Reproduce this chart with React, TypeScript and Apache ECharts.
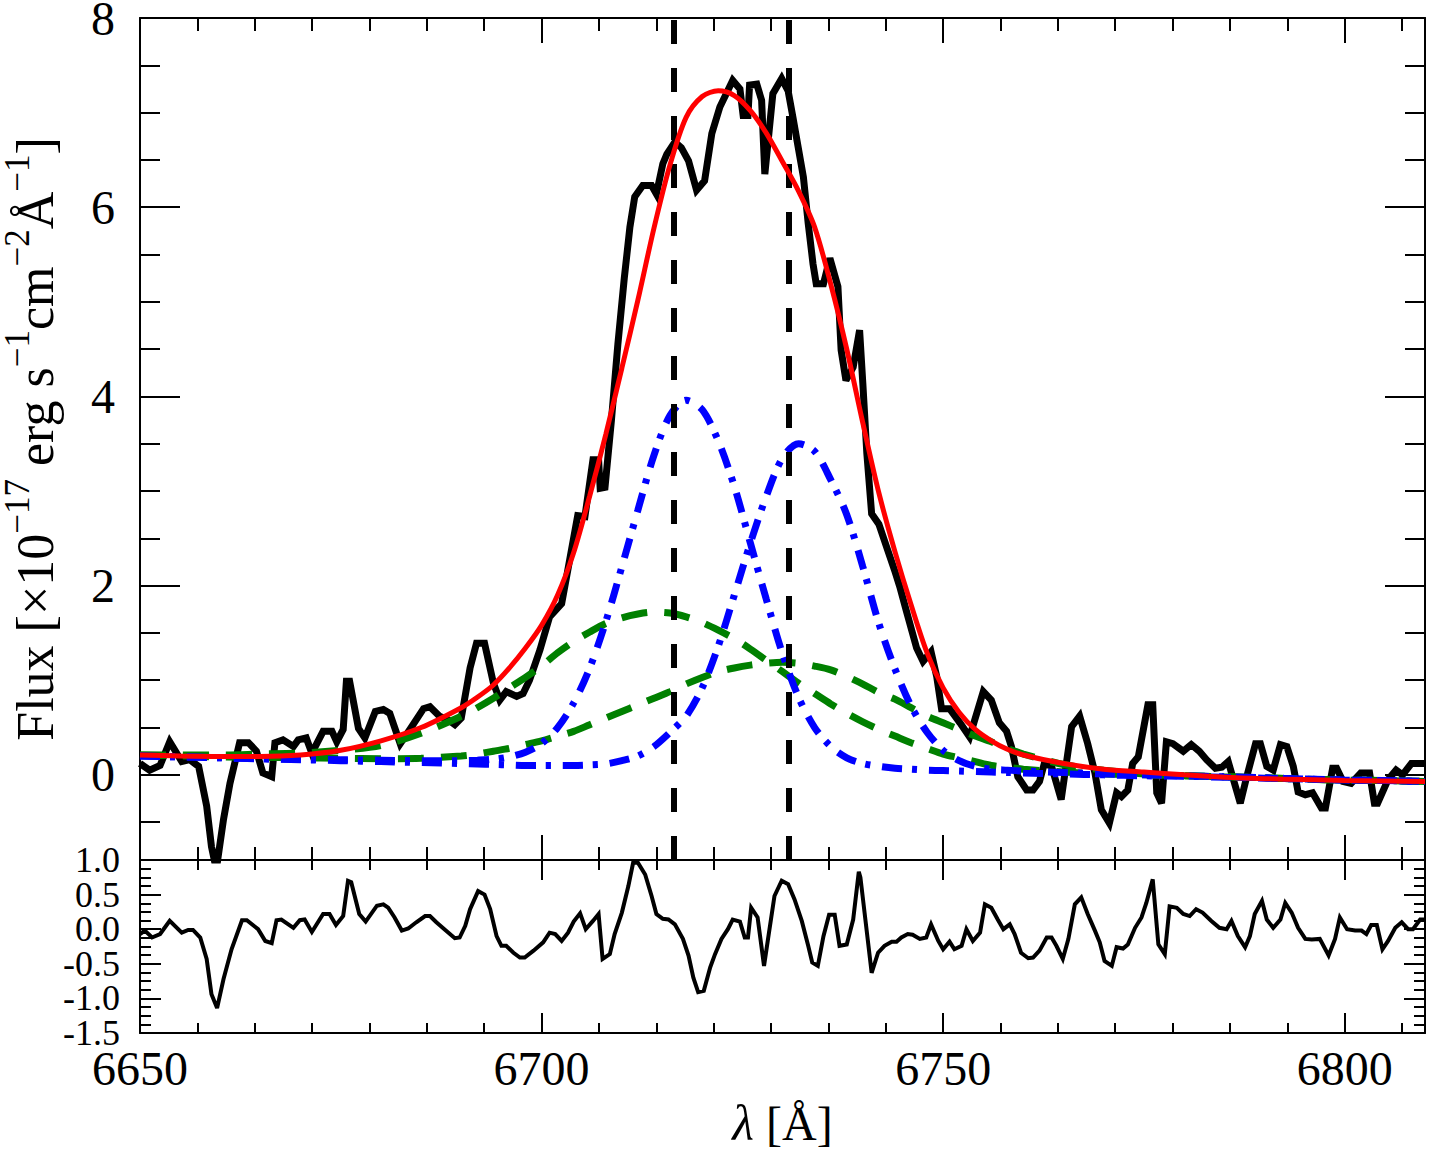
import React, { useEffect, useRef } from "react";
import * as echarts from "echarts";

// ---------- observed spectrum (wavelength in Å, flux in 1e-17 units) ----------
const fluxWave = [
  6650.0, 6651.2, 6652.5, 6653.7, 6655.2, 6656.2, 6657.3, 6658.3, 6658.9, 6659.5,
  6660.4, 6661.2, 6662.4, 6663.5, 6664.5, 6665.3, 6666.4, 6666.8, 6667.8, 6669.1,
  6669.7, 6670.7, 6671.4, 6672.8, 6673.9, 6674.5, 6675.3, 6675.7, 6676.1, 6677.2,
  6678.0, 6679.3, 6680.3, 6681.1, 6682.4, 6683.6, 6685.3, 6686.1, 6687.3, 6688.4,
  6689.2, 6690.0, 6691.1, 6691.9, 6692.9, 6694.0, 6694.8, 6695.6, 6696.9, 6697.7,
  6698.5, 6699.8, 6701.0, 6702.5, 6703.3, 6704.5, 6705.4, 6706.4, 6707.1, 6707.3,
  6707.9, 6708.7, 6709.5, 6710.3, 6711.0, 6711.6, 6712.6, 6713.7, 6714.3, 6715.1,
  6715.6, 6716.6, 6717.4, 6718.3, 6719.3, 6720.3, 6721.2, 6722.2, 6723.8, 6724.7,
  6725.1, 6725.7, 6725.9, 6726.8, 6727.4, 6727.8, 6728.8, 6729.9, 6730.7, 6731.3,
  6732.6, 6733.2, 6733.8, 6734.2, 6735.1, 6735.9, 6736.9, 6737.3, 6737.9, 6738.8,
  6739.6, 6740.0, 6740.5, 6741.1, 6742.0, 6743.0, 6744.0, 6744.6, 6745.4, 6746.7,
  6747.5, 6748.5, 6749.2, 6749.8, 6750.8, 6752.1, 6753.3, 6755.0, 6756.0, 6757.0,
  6757.9, 6758.5, 6759.3, 6760.4, 6761.2, 6762.0, 6762.6, 6763.5, 6764.7, 6766.0,
  6767.0, 6768.0, 6768.9, 6769.7, 6770.7, 6771.6, 6772.2, 6773.0, 6773.6, 6774.3,
  6775.5, 6776.1, 6776.6, 6777.2, 6777.8, 6778.6, 6779.9, 6780.9, 6781.9, 6782.8,
  6783.9, 6784.7, 6785.5, 6787.0, 6787.8, 6788.9, 6789.5, 6790.3, 6791.1, 6792.0,
  6792.8, 6793.6, 6794.2, 6795.1, 6796.0, 6797.1, 6797.6, 6798.5, 6799.0, 6799.8,
  6800.8, 6802.0, 6803.1, 6803.7, 6804.1, 6805.4, 6806.4, 6807.2, 6808.3, 6809.3,
  6810.0,
];
const fluxVal = [
  0.12, 0.05, 0.1, 0.35, 0.14, 0.16, 0.09, -0.33, -0.76, -1.0,
  -0.47, -0.09, 0.34, 0.34, 0.25, 0.02, -0.02, 0.34, 0.37, 0.3,
  0.37, 0.39, 0.23, 0.46, 0.46, 0.35, 0.48, 0.99, 0.99, 0.49,
  0.39, 0.67, 0.69, 0.65, 0.33, 0.48, 0.7, 0.72, 0.62, 0.58,
  0.53, 0.6, 1.13, 1.39, 1.39, 0.97, 0.79, 0.88, 0.83, 0.86,
  1.0, 1.32, 1.67, 1.81, 2.18, 2.74, 2.73, 3.33, 3.33, 3.03,
  3.04, 3.75, 4.55, 5.25, 5.79, 6.11, 6.23, 6.23, 6.14, 6.46,
  6.56, 6.69, 6.63, 6.49, 6.18, 6.28, 6.78, 7.06, 7.34, 7.25,
  6.97, 6.97, 7.29, 7.3, 7.13, 6.35, 7.2, 7.36, 7.23, 6.95,
  6.32, 5.83, 5.4, 5.19, 5.19, 5.46, 5.16, 4.49, 4.17, 4.31,
  4.7, 4.14, 3.4, 2.76, 2.65, 2.4, 2.15, 1.99, 1.74, 1.34,
  1.2, 1.3, 1.04, 0.7, 0.7, 0.55, 0.4, 0.88, 0.79, 0.55,
  0.46, 0.3, -0.02, -0.16, -0.16, -0.07, 0.12, 0.09, -0.26, 0.51,
  0.62, 0.33, 0.02, -0.37, -0.51, -0.19, -0.23, -0.16, 0.12, 0.19,
  0.74, 0.74, -0.19, -0.3, 0.35, 0.33, 0.25, 0.32, 0.25, 0.16,
  0.07, 0.08, 0.14, -0.3, -0.02, 0.33, 0.33, 0.09, 0.05, 0.32,
  0.3, 0.09, -0.18, -0.21, -0.19, -0.35, -0.35, 0.07, 0.07, -0.07,
  -0.09, 0.02, 0.02, -0.3, -0.3, -0.05, 0.05, 0.0, 0.12, 0.12,
  0.12,
];

// ---------- residuals ----------
const residWave = [
  6650.0, 6650.6, 6651.5, 6652.5, 6653.7, 6655.2, 6656.0, 6656.6, 6657.5, 6658.3,
  6658.9, 6659.6, 6660.4, 6661.4, 6662.7, 6663.3, 6664.7, 6665.6, 6666.4, 6667.0,
  6667.6, 6669.1, 6669.9, 6670.5, 6671.4, 6672.8, 6673.6, 6674.4, 6675.3, 6675.9,
  6676.3, 6677.3, 6678.1, 6679.5, 6680.3, 6680.9, 6681.7, 6682.6, 6683.4, 6684.4,
  6685.5, 6686.1, 6686.9, 6687.9, 6689.2, 6689.8, 6690.5, 6691.1, 6692.1, 6692.9,
  6693.6, 6694.4, 6695.0, 6695.6, 6696.5, 6697.3, 6697.9, 6699.0, 6700.2, 6701.0,
  6701.7, 6702.5, 6703.3, 6704.0, 6704.8, 6705.5, 6706.4, 6707.1, 6707.6, 6708.5,
  6709.1, 6710.0, 6710.8, 6711.4, 6712.0, 6712.9, 6713.7, 6714.3, 6715.1, 6715.8,
  6716.6, 6717.6, 6718.3, 6718.9, 6719.5, 6720.2, 6721.0, 6721.6, 6722.4, 6723.2,
  6723.8, 6724.7, 6725.3, 6725.7, 6726.1, 6726.9, 6727.7, 6728.2, 6729.0, 6729.9,
  6730.7, 6731.5, 6732.4, 6733.2, 6733.7, 6734.4, 6735.1, 6735.8, 6736.5, 6737.1,
  6738.0, 6738.8, 6739.5, 6739.7, 6741.1, 6741.9, 6742.7, 6743.6, 6744.2, 6744.8,
  6745.6, 6746.2, 6747.1, 6747.9, 6748.5, 6749.4, 6750.0, 6750.8, 6751.4, 6752.3,
  6752.9, 6753.7, 6754.6, 6755.2, 6756.0, 6756.8, 6757.5, 6758.3, 6758.9, 6759.7,
  6760.6, 6761.2, 6762.0, 6762.9, 6763.5, 6764.1, 6764.9, 6765.6, 6766.4, 6767.2,
  6768.0, 6768.9, 6769.5, 6770.1, 6771.0, 6771.6, 6772.4, 6773.0, 6773.9, 6774.7,
  6775.3, 6776.1, 6776.8, 6777.6, 6778.2, 6779.1, 6779.9, 6780.7, 6781.5, 6782.3,
  6783.4, 6784.4, 6785.3, 6785.9, 6786.7, 6787.6, 6788.2, 6788.8, 6789.7, 6790.3,
  6791.1, 6792.0, 6792.6, 6793.4, 6794.2, 6795.1, 6795.9, 6796.9, 6798.0, 6798.8,
  6799.4, 6800.3, 6801.3, 6802.1, 6802.7, 6803.3, 6804.0, 6804.7, 6805.4, 6806.3,
  6807.1, 6807.9, 6808.5, 6809.4, 6810.0,
];
const residVal = [
  -0.07, -0.02, -0.12, -0.07, 0.12, -0.05, -0.01, -0.01, -0.12, -0.43,
  -0.94, -1.14, -0.72, -0.29, 0.13, 0.13, 0.0, -0.17, -0.2, 0.13,
  0.14, 0.02, 0.13, 0.14, -0.04, 0.22, 0.22, 0.06, 0.19, 0.7,
  0.68, 0.22, 0.11, 0.34, 0.36, 0.31, 0.17, -0.02, 0.01, 0.1,
  0.19, 0.19, 0.1, 0.0, -0.13, -0.12, 0.05, 0.29, 0.55, 0.5,
  0.29, -0.1, -0.24, -0.24, -0.34, -0.41, -0.41, -0.31, -0.19, -0.05,
  -0.07, -0.17, -0.05, 0.11, 0.23, 0.0, 0.12, 0.22, -0.43, -0.36,
  -0.07, 0.24, 0.62, 0.96, 0.96, 0.79, 0.48, 0.22, 0.15, 0.14,
  0.07, -0.14, -0.38, -0.7, -0.91, -0.89, -0.55, -0.36, -0.14, 0.0,
  0.14, 0.11, -0.12, -0.12, 0.31, 0.17, -0.53, -0.14, 0.48, 0.7,
  0.65, 0.43, 0.12, -0.24, -0.48, -0.53, -0.1, 0.21, 0.21, -0.24,
  -0.22, 0.14, 0.83, 0.75, -0.63, -0.34, -0.24, -0.18, -0.18, -0.12,
  -0.07, -0.08, -0.14, -0.12, 0.07, -0.17, -0.29, -0.18, -0.29, -0.24,
  0.0, -0.17, -0.05, 0.36, 0.31, 0.14, 0.0, 0.07, -0.07, -0.34,
  -0.42, -0.41, -0.31, -0.12, -0.12, -0.24, -0.43, -0.14, 0.36, 0.46,
  0.22, -0.02, -0.19, -0.46, -0.53, -0.26, -0.28, -0.22, 0.02, 0.17,
  0.38, 0.72, -0.22, -0.36, 0.33, 0.31, 0.22, 0.19, 0.29, 0.24,
  0.12, 0.02, 0.0, 0.12, -0.1, -0.26, -0.1, 0.22, 0.41, 0.14,
  0.02, 0.14, 0.38, 0.24, 0.02, -0.14, -0.15, -0.14, -0.38, -0.14,
  0.17, 0.0, -0.02, -0.02, -0.07, 0.06, 0.06, -0.29, -0.17, 0.02,
  0.1, 0.0, 0.0, 0.14, 0.14,
];

// ---------- fitted model curves ----------
const modelWave = [
  6650, 6655, 6660, 6665, 6670, 6675, 6680, 6685, 6690, 6692,
  6694, 6696, 6698, 6700, 6702, 6704, 6706, 6708, 6710, 6712,
  6714, 6716, 6718, 6720, 6722, 6724, 6726, 6728, 6730, 6732,
  6734, 6736, 6738, 6740, 6742, 6744, 6746, 6748, 6750, 6752,
  6754, 6756, 6758, 6760, 6765, 6770, 6775, 6780, 6785, 6790,
  6795, 6800, 6805, 6810,
];
const totalFit = [
  0.21, 0.2, 0.195, 0.195, 0.21, 0.26, 0.36, 0.5, 0.71, 0.82,
  0.95, 1.13, 1.34, 1.58, 1.9, 2.35, 2.95, 3.6, 4.3, 5.02,
  5.78, 6.45, 6.95, 7.17, 7.23, 7.18, 7.02, 6.78, 6.48, 6.17,
  5.79, 5.19, 4.5, 3.72, 2.98, 2.36, 1.8, 1.29, 0.92, 0.66,
  0.48, 0.36, 0.27, 0.21, 0.12, 0.06, 0.03, 0.0, -0.025, -0.04,
  -0.05, -0.06, -0.065, -0.07,
];
const broadBlue = [
  0.21, 0.21, 0.21, 0.22, 0.23, 0.26, 0.31, 0.44, 0.62, 0.71,
  0.81, 0.92, 1.03, 1.15, 1.29, 1.41, 1.51, 1.6, 1.66, 1.7,
  1.72, 1.71, 1.67, 1.61, 1.53, 1.44, 1.33, 1.21, 1.09, 0.97,
  0.86, 0.75, 0.65, 0.56, 0.48, 0.41, 0.34, 0.28, 0.22, 0.18,
  0.14, 0.1, 0.08, 0.06, 0.03, 0.01, 0.0, -0.01, -0.02, -0.03,
  -0.045, -0.055, -0.06, -0.07,
];
const broadRed = [
  0.21, 0.2, 0.19, 0.185, 0.18, 0.175, 0.17, 0.175, 0.2, 0.22,
  0.25, 0.28, 0.32, 0.36, 0.41, 0.46, 0.53, 0.6, 0.67, 0.74,
  0.81, 0.88, 0.96, 1.03, 1.09, 1.13, 1.16, 1.18, 1.19, 1.18,
  1.15, 1.11, 1.04, 0.96, 0.87, 0.8, 0.71, 0.62, 0.55, 0.48,
  0.41, 0.35, 0.28, 0.22, 0.11, 0.05, 0.01, -0.01, -0.02, -0.03,
  -0.045, -0.055, -0.06, -0.07,
];
const narrowBlue = [
  0.2, 0.19, 0.18, 0.17, 0.165, 0.16, 0.155, 0.15, 0.15, 0.155,
  0.165, 0.19, 0.24, 0.33, 0.5, 0.76, 1.13, 1.62, 2.2, 2.8,
  3.38, 3.8, 3.96, 3.86, 3.53, 3.05, 2.45, 1.85, 1.28, 0.82,
  0.5, 0.3, 0.18, 0.12, 0.09, 0.07, 0.06, 0.05, 0.045, 0.04,
  0.035, 0.03, 0.025, 0.02, 0.01, 0.0, -0.01, -0.015, -0.025, -0.035,
  -0.045, -0.055, -0.06, -0.07,
];
const narrowRed = [
  0.2, 0.19, 0.18, 0.17, 0.16, 0.15, 0.14, 0.13, 0.12, 0.115,
  0.11, 0.105, 0.1, 0.1, 0.1, 0.1, 0.105, 0.115, 0.15, 0.2,
  0.3, 0.45, 0.62, 0.92, 1.36, 1.9, 2.45, 2.95, 3.35, 3.5,
  3.42, 3.12, 2.75, 2.2, 1.6, 1.12, 0.73, 0.45, 0.26, 0.15,
  0.09, 0.06, 0.05, 0.04, 0.025, 0.01, 0.0, -0.01, -0.02, -0.03,
  -0.045, -0.055, -0.06, -0.07,
];

// [SII] rest wavelengths marked by the dashed verticals
const lineCenters = [6716.44, 6730.82];

// tick labels
const xTickLabels = [6650, 6700, 6750, 6800];
const fluxTickLabels = [0, 2, 4, 6, 8];
const residTickLabelsA = [-1.5, -0.5, 0.5];
const residTickLabelsB = [-1.0, 0.0, 1.0];

// ---------- layout / style constants ----------
const FONT = "Liberation Serif";
const X_MIN = 6650;
const X_MAX = 6810;
const X_STEP = 50;
const X_MINOR = 50 / 7;
const F_MIN = -0.9;
const F_MAX = 8;
const R_MIN = -1.5;
const R_MAX = 1.0;
const R_STEP = 0.5;

const AXIS_STYLE = { color: "#000", width: 2 };

const pairs = (xs: number[], ys: number[]) => xs.map((x, i) => [x, ys[i]]);
const near = (list: number[], v: number) => list.some((t) => Math.abs(t - v) < 1e-6);

function xAxisDef(
  gridIndex: number,
  position: "top" | "bottom",
  tickLen: number,
  minor: boolean,
  withLabels: boolean,
  extra: any = {}
) {
  return {
    type: "value",
    gridIndex,
    position,
    min: X_MIN,
    max: X_MAX,
    interval: minor ? X_MINOR : X_STEP,
    axisLine: { show: !minor, onZero: false, lineStyle: AXIS_STYLE },
    axisTick: { show: true, inside: true, length: tickLen, lineStyle: AXIS_STYLE },
    axisLabel: withLabels
      ? {
          show: true,
          margin: 11,
          fontFamily: FONT,
          fontSize: 48,
          color: "#000",
          hideOverlap: false,
          showMinLabel: true,
          showMaxLabel: true,
          formatter: (v: number) => (near(xTickLabels, v) ? String(v) : ""),
        }
      : { show: false },
    splitLine: { show: false },
    minorTick: { show: false },
    minorSplitLine: { show: false },
    ...extra,
  };
}

function fluxAxisDef(position: "left" | "right", minor: boolean, withLabels: boolean, extra: any = {}) {
  const step = minor ? 0.5 : 2;
  return {
    type: "value",
    gridIndex: 0,
    position,
    min: F_MIN,
    max: F_MAX,
    splitNumber: minor ? 18 : 5,
    minInterval: step,
    maxInterval: step,
    axisLine: { show: !minor, onZero: false, lineStyle: AXIS_STYLE },
    axisTick: { show: true, inside: true, length: minor ? 20 : 40, lineStyle: AXIS_STYLE },
    axisLabel: withLabels
      ? {
          show: true,
          margin: 25,
          fontFamily: FONT,
          fontSize: 48,
          lineHeight: 36,
          color: "#000",
          hideOverlap: false,
          showMinLabel: true,
          showMaxLabel: true,
          formatter: (v: number) => (near(fluxTickLabels, v) ? String(Math.round(v)) : ""),
        }
      : { show: false },
    splitLine: { show: false },
    minorTick: { show: false },
    ...extra,
  };
}

// residual y axes: the frame/tick axis, plus label-only axes (labels split in two
// sets so the library never drops neighbours as overlapping)
function residAxisDef(position: "left" | "right", frame: boolean, labels: number[] | null) {
  return {
    type: "value",
    gridIndex: 1,
    position,
    min: R_MIN,
    max: R_MAX,
    interval: R_STEP,
    axisLine: { show: frame, onZero: false, lineStyle: AXIS_STYLE },
    axisTick: { show: frame, inside: true, length: 21, lineStyle: AXIS_STYLE },
    minorTick: { show: frame, splitNumber: 4, length: 11, lineStyle: AXIS_STYLE },
    axisLabel: labels
      ? {
          show: true,
          margin: 20,
          fontFamily: FONT,
          fontSize: 36,
          lineHeight: 30,
          color: "#000",
          hideOverlap: false,
          showMinLabel: true,
          showMaxLabel: true,
          formatter: (v: number) => (near(labels, v) ? v.toFixed(1) : ""),
        }
      : { show: false },
    splitLine: { show: false },
    minorSplitLine: { show: false },
  };
}

export default function App() {
  const ref = useRef<HTMLDivElement | null>(null);

  useEffect(() => {
    if (!ref.current) return;
    const chart = echarts.init(ref.current, null, { renderer: "svg" });

    const yName =
      "{b|Flux [×10}{s|−17}{b| erg s}{s|−1}{b|cm}{s|−2}{b|Å}{s|−1}{b|]}";

    const option: any = {
      animation: false,
      backgroundColor: "#fff",
      textStyle: { fontFamily: FONT },
      grid: [
        { left: 140, top: 18, width: 1285, height: 842, outerBoundsMode: "none", containLabel: false },
        { left: 140, top: 860, width: 1285, height: 173, outerBoundsMode: "none", containLabel: false },
      ],
      xAxis: [
        xAxisDef(0, "bottom", 25, false, false),
        xAxisDef(0, "bottom", 13, true, false),
        xAxisDef(0, "top", 25, false, false),
        xAxisDef(0, "top", 13, true, false),
        xAxisDef(1, "bottom", 20, false, true, {
          name: "{i|λ}{n| [Å]}",
          nameLocation: "middle",
          nameGap: 65,
          nameMoveOverlap: false,
          nameTextStyle: {
            color: "#000",
            fontFamily: FONT,
            fontSize: 48,
            rich: {
              i: { fontFamily: FONT, fontSize: 50, fontStyle: "italic", color: "#000" },
              n: { fontFamily: FONT, fontSize: 48, color: "#000" },
            },
          },
        }),
        xAxisDef(1, "bottom", 10, true, false),
        xAxisDef(1, "top", 20, false, false),
        xAxisDef(1, "top", 10, true, false),
      ],
      yAxis: [
        fluxAxisDef("left", false, true, {
          name: yName,
          nameLocation: "middle",
          nameRotate: 90,
          nameGap: 70,
          nameMoveOverlap: false,
          nameTextStyle: {
            color: "#000",
            fontFamily: FONT,
            fontSize: 52,
            rich: {
              b: { fontFamily: FONT, fontSize: 52, lineHeight: 70, verticalAlign: "middle", color: "#000" },
              s: { fontFamily: FONT, fontSize: 35, lineHeight: 32, verticalAlign: "top", color: "#000" },
            },
          },
        }),
        fluxAxisDef("left", true, false),
        fluxAxisDef("right", false, false),
        fluxAxisDef("right", true, false),
        residAxisDef("left", true, residTickLabelsA),
        residAxisDef("left", false, residTickLabelsB),
        residAxisDef("right", true, null),
      ],
      series: [
        {
          name: "data",
          type: "line",
          xAxisIndex: 0,
          yAxisIndex: 0,
          data: pairs(fluxWave, fluxVal),
          symbol: "none",
          clip: true,
          lineStyle: { color: "#000", width: 7, join: "miter", miterLimit: 3 },
          z: 2,
          markLine: {
            silent: true,
            symbol: ["none", "none"],
            label: { show: false },
            lineStyle: { color: "#000", width: 6, type: [24, 24] },
            data: lineCenters.map((c) => ({ xAxis: c })),
          },
        },
        {
          name: "broad 1",
          type: "line",
          xAxisIndex: 0,
          yAxisIndex: 0,
          data: pairs(modelWave, broadBlue),
          symbol: "none",
          smooth: 0.3,
          lineStyle: { color: "#008000", width: 7, type: [26, 17] },
          z: 3,
        },
        {
          name: "broad 2",
          type: "line",
          xAxisIndex: 0,
          yAxisIndex: 0,
          data: pairs(modelWave, broadRed),
          symbol: "none",
          smooth: 0.3,
          lineStyle: { color: "#008000", width: 7, type: [26, 17] },
          z: 3,
        },
        {
          name: "narrow 1",
          type: "line",
          xAxisIndex: 0,
          yAxisIndex: 0,
          data: pairs(modelWave, narrowBlue),
          symbol: "none",
          smooth: 0.3,
          lineStyle: { color: "#0000ff", width: 7, type: [20, 10, 5, 12] },
          z: 4,
        },
        {
          name: "narrow 2",
          type: "line",
          xAxisIndex: 0,
          yAxisIndex: 0,
          data: pairs(modelWave, narrowRed),
          symbol: "none",
          smooth: 0.3,
          lineStyle: { color: "#0000ff", width: 7, type: [20, 10, 5, 12] },
          z: 4,
        },
        {
          name: "total",
          type: "line",
          xAxisIndex: 0,
          yAxisIndex: 0,
          data: pairs(modelWave, totalFit),
          symbol: "none",
          smooth: 0.3,
          lineStyle: { color: "#ff0000", width: 5 },
          z: 5,
        },
        {
          name: "residual",
          type: "line",
          xAxisIndex: 4,
          yAxisIndex: 4,
          data: pairs(residWave, residVal),
          symbol: "none",
          clip: true,
          lineStyle: { color: "#000", width: 4, join: "miter", miterLimit: 3 },
          z: 2,
        },
      ],
    };

    chart.setOption(option);
    return () => {
      chart.dispose();
    };
  }, []);

  return (
    <div
      ref={ref}
      style={{ position: "absolute", left: 0, top: 0, width: 1429, height: 1151, background: "#fff" }}
    />
  );
}
